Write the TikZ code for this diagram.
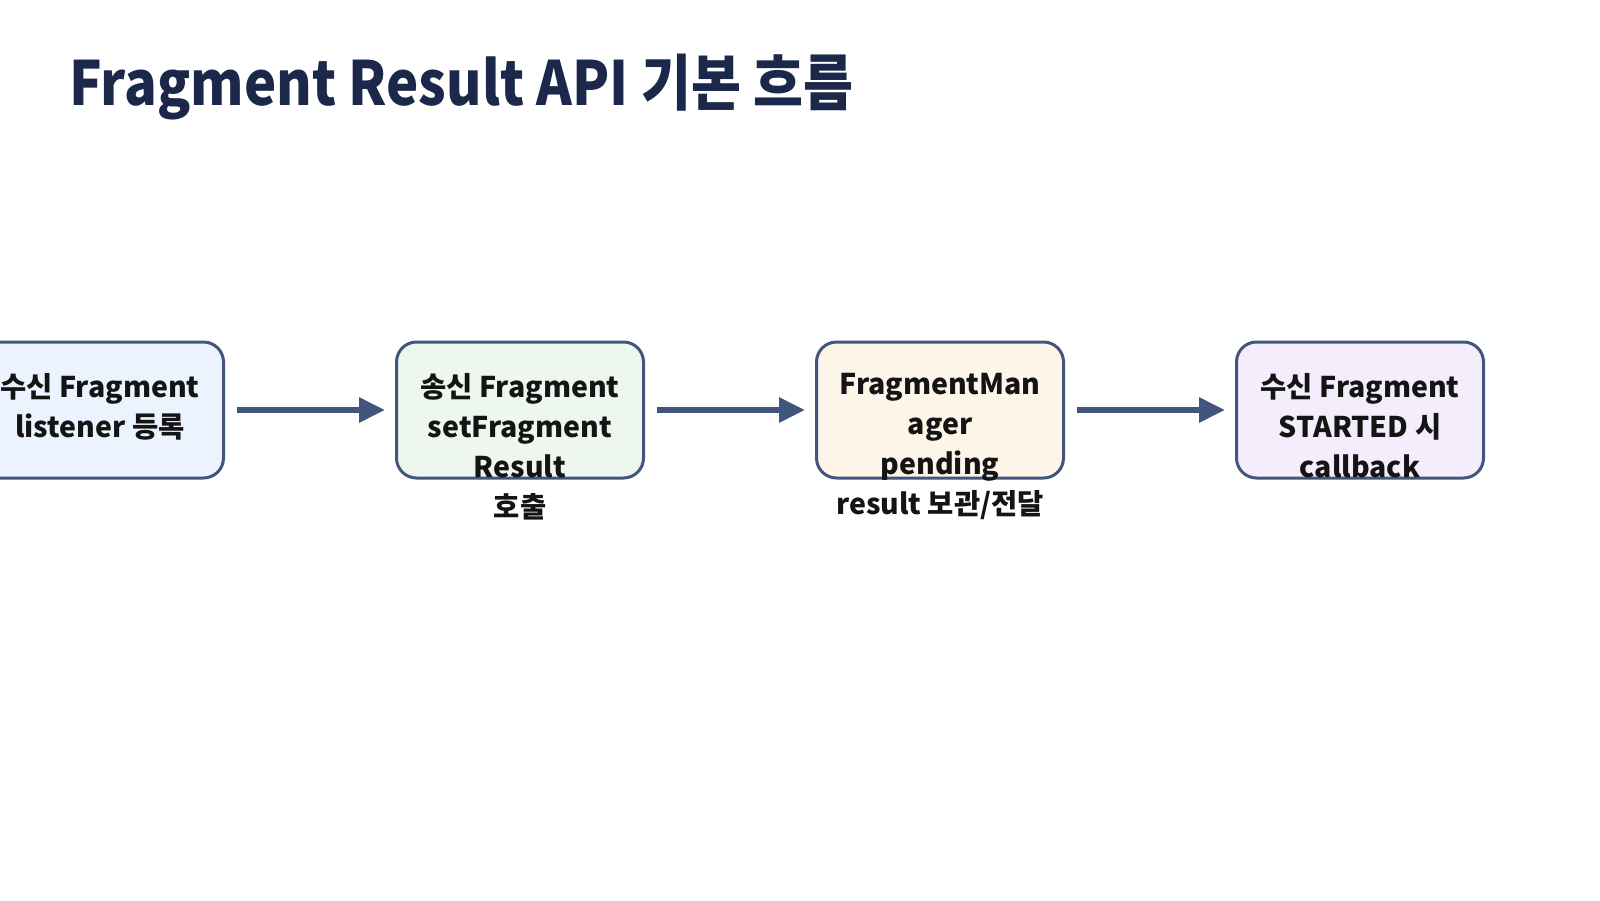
\documentclass[tikz,border=0pt]{standalone}
\usepackage{fontspec}
\setmainfont{Noto Sans CJK KR}
\newfontfamily\heavyfont{Noto Sans CJK KR Black}
\usetikzlibrary{arrows.meta,positioning}
\definecolor{titlenavy}{HTML}{1B2849}
\definecolor{edgeblue}{HTML}{42557D}
\definecolor{inkgray}{HTML}{141414}
\definecolor{fillblue}{HTML}{EBF3FE}
\definecolor{fillgreen}{HTML}{EDF7EE}
\definecolor{fillcream}{HTML}{FDF5E7}
\definecolor{filllilac}{HTML}{F4EEFC}
\tikzset{
  stepbox/.style={draw=edgeblue, line width=3pt, rounded corners=20pt,
    minimum width=247pt, minimum height=136pt, inner sep=0pt},
  boxtext/.style={anchor=north, align=center, text=inkgray, inner sep=0pt,
    yshift=-33pt, font=\heavyfont\fontsize{28.5}{40}\selectfont},
  flow/.style={edgeblue, line width=6pt, -{Triangle[length=26pt,width=24pt]},
    shorten <=12pt, shorten >=10pt}
}
\begin{document}
\begin{tikzpicture}[x=1pt,y=-1pt]
  \useasboundingbox (0,0) rectangle (1600,900);
  \node[anchor=base west, text=titlenavy, inner sep=0pt,
    font=\heavyfont\fontsize{61}{61}\selectfont] (title) at (69,105)
    {\scalebox{0.89}[1]{Fragment Result API 기본 흐름}};
  % flow boxes
  \node[stepbox, fill=fillblue] (recv) at (100,410) {};
  \node[stepbox, fill=fillgreen, right=170pt of recv] (send) {};
  \node[stepbox, fill=fillcream, right=170pt of send] (mgr) {};
  \node[stepbox, fill=filllilac, right=170pt of mgr] (cb) {};
  \node[boxtext] (recvtext) at (recv.north) {수신 Fragment\\listener 등록};
  \node[boxtext] (sendtext) at (send.north) {송신 Fragment\\setFragment\\Result\\호출};
  \node[boxtext] (mgrtext) at (mgr.north) {FragmentMan\\ager\\pending\\result 보관/전달};
  \node[boxtext] (cbtext) at (cb.north) {수신 Fragment\\STARTED 시\\callback};
  \foreach \a/\b in {recv/send,send/mgr,mgr/cb}
    \draw[flow] (\a) -- (\b);
\end{tikzpicture}
\end{document}
